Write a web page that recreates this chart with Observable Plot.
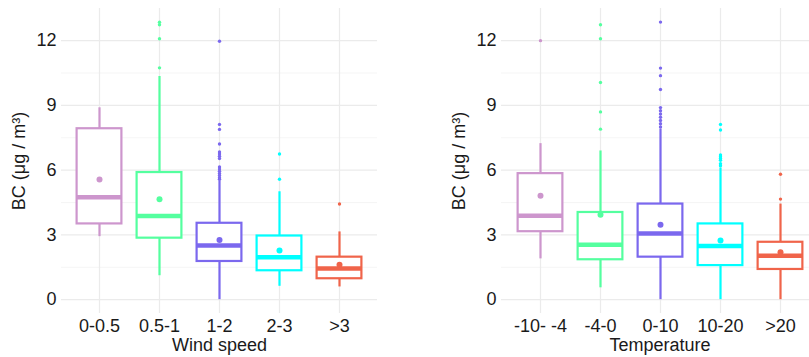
<!DOCTYPE html>
<html>
<head>
<meta charset="utf-8">
<script src="https://cdn.jsdelivr.net/npm/d3@7"></script>
<script src="https://cdn.jsdelivr.net/npm/@observablehq/plot@0.6"></script>
<style>
  html, body { margin: 0; padding: 0; background: #fff; overflow: hidden; }
  #wrap { position: relative; width: 809px; height: 357px; overflow: hidden; }
  #left, #right { position: absolute; top: 0; }
  #left { left: 0; width: 400px; }
  #right { left: 420px; width: 420px; }
  svg { max-width: none !important; }
</style>
</head>
<body>
<div id="wrap"><div id="left"></div><div id="right"></div></div>
<script>
const colors = ["#cd96cd", "#54ff9f", "#7b68ee", "#00ffff", "#f0644a"];
const yTicks = [0, 3, 6, 9, 12];
const yMinor = [1.5, 4.5, 7.5, 10.5];

// Wind speed panel
const windCats = ["0-0.5", "0.5-1", "1-2", "2-3", ">3"];
const windLow = [2.92, 1.11, 0.0, 0.62, 0.59];
const windQ1 = [3.51, 2.85, 1.77, 1.34, 0.97];
const windMed = [4.74, 3.88, 2.51, 1.97, 1.45];
const windQ3 = [7.92, 5.89, 3.54, 2.95, 1.97];
const windHigh = [8.89, 10.34, 5.5, 5.0, 3.14];
const windMean = [5.57, 4.65, 2.77, 2.28, 1.62];
const windOut = [
  [],
  [12.85, 12.74, 12.09, 10.74],
  [11.97, 8.12, 7.89, 7.21, 6.84, 6.75, 6.65, 6.54, 6.15, 6.05, 5.95, 5.85, 5.75, 5.65, 5.58],
  [6.75, 5.58],
  [4.43]
];

// Temperature panel
const tempCats = ["-10- -4", "-4-0", "0-10", "10-20", ">20"];
const tempLow = [1.89, 0.55, 0.0, 0.0, 0.0];
const tempQ1 = [3.15, 1.85, 1.97, 1.58, 1.40];
const tempMed = [3.89, 2.55, 3.07, 2.49, 2.04];
const tempQ3 = [5.84, 4.04, 4.43, 3.51, 2.66];
const tempHigh = [7.23, 6.89, 7.9, 6.1, 4.43];
const tempMean = [4.81, 3.94, 3.47, 2.74, 2.20];
const tempOut = [
  [12.0],
  [12.74, 12.09, 10.06, 8.70, 7.90],
  [12.86, 10.73, 10.38, 9.74, 8.90, 8.75, 8.60, 8.45, 8.30, 8.15, 8.0],
  [8.12, 7.86, 6.70, 6.62, 6.54, 6.46, 6.3, 6.2],
  [5.81, 4.66]
];

function makePanel({cats, low, q1, med, q3, high, mean, out, xTitle, marginLeft, width, marginRight}) {
  const rows = cats.map((c, i) => ({cat: c, low: low[i], q1: q1[i], med: med[i], q3: q3[i], high: high[i], mean: mean[i]}));
  const outs = cats.flatMap((c, i) => out[i].map(v => ({cat: c, v})));
  const plotW = width - marginLeft - marginRight;
  const step = plotW / 5.2;
  const inset = step * 0.125;
  const font = "Liberation Sans, Arial, sans-serif";
  return Plot.plot({
    width, height: 357,
    marginLeft, marginRight, marginTop: 8, marginBottom: 44,
    style: {fontFamily: font, fontSize: "18px", color: "#1a1a1a", background: "#fff", overflow: "visible", maxWidth: "none"},
    x: {type: "band", domain: cats, paddingInner: 0, paddingOuter: 0.1, label: null},
    y: {domain: [-0.64, 13.49], label: null},
    color: {domain: cats, range: colors},
    marks: [
      Plot.ruleY(yMinor, {stroke: "#f3f3f3", strokeWidth: 0.8}),
      Plot.ruleY(yTicks, {stroke: "#ebebeb", strokeWidth: 1.2}),
      Plot.ruleX(cats, {x: d => d, stroke: "#ebebeb", strokeWidth: 1.2}),
      Plot.axisY({ticks: yTicks, tickSize: 0, tickPadding: 5, label: null, fontSize: 18, fill: "#1a1a1a"}),
      Plot.axisX({tickSize: 0, tickPadding: 6, label: null, fontSize: 18, fill: "#1a1a1a"}),
      Plot.ruleX(rows, {x: "cat", y1: "low", y2: "q1", stroke: "cat", strokeWidth: 2.2}),
      Plot.ruleX(rows, {x: "cat", y1: "q3", y2: "high", stroke: "cat", strokeWidth: 2.2}),
      Plot.barY(rows, {x: "cat", y1: "q1", y2: "q3", fill: "white", stroke: "cat", strokeWidth: 2.2, insetLeft: inset, insetRight: inset}),
      Plot.tickY(rows, {x: "cat", y: "med", stroke: "cat", strokeWidth: 4.5, inset: inset}),
      Plot.dot(outs, {x: "cat", y: "v", fill: "cat", r: 1.7, stroke: null}),
      Plot.dot(rows, {x: "cat", y: "mean", fill: "cat", r: 3, stroke: null}),
      Plot.text(["BC (μg / m³)"], {frameAnchor: "left", text: d => d, rotate: -90, dx: -49, lineAnchor: "top", textAnchor: "middle", fontSize: 18, fill: "#1a1a1a"}),
      Plot.text([xTitle], {frameAnchor: "bottom", text: d => d, dy: 25, lineAnchor: "top", textAnchor: "middle", fontSize: 18, fill: "#1a1a1a"})
    ]
  });
}

document.getElementById("left").append(makePanel({
  cats: windCats, low: windLow, q1: windQ1, med: windMed, q3: windQ3, high: windHigh, mean: windMean, out: windOut,
  xTitle: "Wind speed", marginLeft: 61, width: 400, marginRight: 23
}));
document.getElementById("right").append(makePanel({
  cats: tempCats, low: tempLow, q1: tempQ1, med: tempMed, q3: tempQ3, high: tempHigh, mean: tempMean, out: tempOut,
  xTitle: "Temperature", marginLeft: 81, width: 420, marginRight: 22
}));
</script>
</body>
</html>
